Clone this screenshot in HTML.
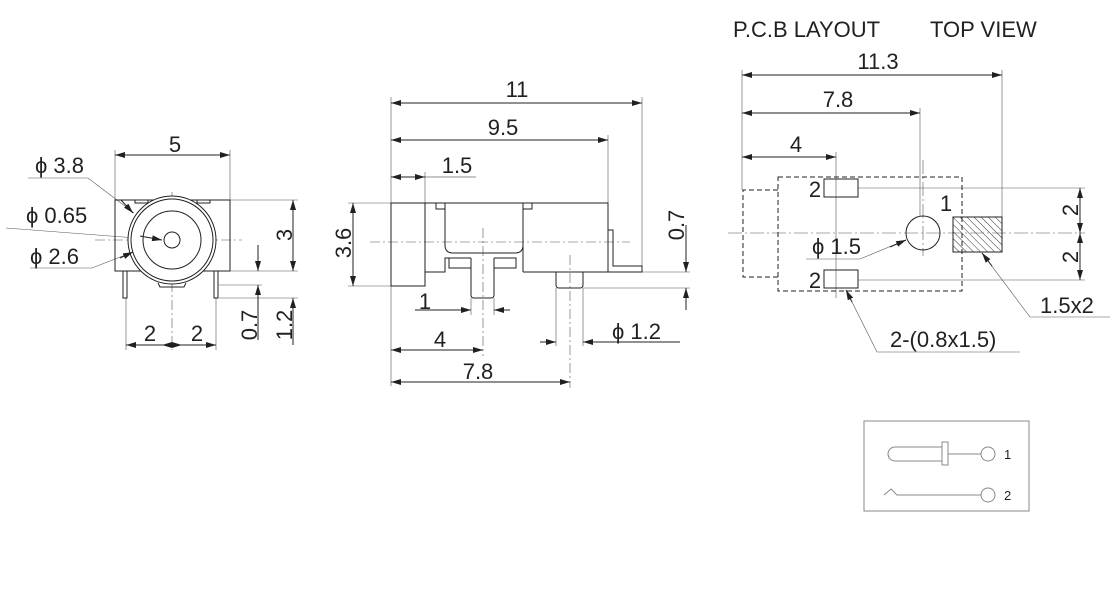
<!DOCTYPE html>
<html><head><meta charset="utf-8"><style>
html,body{margin:0;padding:0;background:#fff;width:1120px;height:590px;overflow:hidden}
svg{display:block}
text{font-family:"Liberation Sans",sans-serif;fill:#231f20}
</style></head><body>
<svg width="1120" height="590" viewBox="0 0 1120 590" xmlns="http://www.w3.org/2000/svg">
<defs>
<marker id="a" viewBox="0 0 10 6" refX="10" refY="3" markerWidth="10" markerHeight="6" orient="auto-start-reverse" markerUnits="userSpaceOnUse"><path d="M0,0 L10,3 L0,6 z" fill="#231f20"/></marker>
<pattern id="h" width="5" height="5" patternUnits="userSpaceOnUse" patternTransform="rotate(-45)"><line x1="0" y1="0" x2="0" y2="5" stroke="#333" stroke-width="1"/></pattern>
</defs>
<g fill="none" stroke="#231f20" stroke-width="1">
<!-- LEFT VIEW -->
<g stroke-width="0.6" stroke="#555">
<line x1="115" y1="150" x2="115" y2="200"/><line x1="230" y1="150" x2="230" y2="200"/>
<line x1="230" y1="200" x2="298" y2="200"/><line x1="230" y1="271" x2="298" y2="271"/>
<line x1="219" y1="285" x2="262" y2="285"/><line x1="219" y1="298" x2="298" y2="298"/>
<line x1="126" y1="298" x2="126" y2="350"/><line x1="216" y1="298" x2="216" y2="350"/>
<line x1="95" y1="240" x2="242" y2="240" stroke-dasharray="10,3,2,3"/>
<line x1="172" y1="192" x2="172" y2="350" stroke-dasharray="10,3,2,3"/>
<polyline points="28,178 88,178 134,213"/><polyline points="6,228 162,240"/><polyline points="30,268 92,268 133,252"/>
</g>
<rect x="115" y="200" width="115" height="71"/>
<rect x="135" y="200" width="13" height="3"/><rect x="197" y="200" width="13" height="3"/>
<circle cx="172" cy="240" r="44" fill="#fff"/><circle cx="172" cy="240" r="41"/><circle cx="172" cy="240" r="29"/><circle cx="172" cy="240" r="8"/>
<path d="M158,283 L160,287 L184,287 L186,283"/>
<rect x="123" y="271" width="4" height="27"/><rect x="214" y="271" width="4" height="27"/>
<line x1="115" y1="155" x2="230" y2="155" marker-start="url(#a)" marker-end="url(#a)"/>
<line x1="293" y1="200" x2="293" y2="271" marker-start="url(#a)" marker-end="url(#a)"/>
<line x1="293" y1="298" x2="293" y2="345" marker-start="url(#a)"/>
<line x1="258" y1="245" x2="258" y2="271" marker-end="url(#a)"/>
<line x1="258" y1="340" x2="258" y2="285" marker-end="url(#a)"/>
<line x1="126" y1="345" x2="216" y2="345" marker-start="url(#a)" marker-end="url(#a)"/>
<line x1="172" y1="345" x2="162" y2="345" marker-end="url(#a)"/><line x1="172" y1="345" x2="182" y2="345" marker-end="url(#a)"/>
<line x1="121" y1="200" x2="133" y2="213" marker-end="url(#a)"/>
<line x1="140" y1="236" x2="162" y2="240" marker-end="url(#a)"/>
<line x1="120" y1="258" x2="133" y2="252" marker-end="url(#a)"/>

<!-- MIDDLE VIEW -->
<g stroke-width="0.6" stroke="#555">
<line x1="391" y1="97" x2="391" y2="386"/><line x1="642" y1="97" x2="642" y2="272"/>
<line x1="608" y1="135" x2="608" y2="203"/><line x1="425" y1="172" x2="425" y2="203"/>
<line x1="348" y1="203" x2="391" y2="203"/><line x1="348" y1="286" x2="391" y2="286"/>
<line x1="642" y1="272" x2="690" y2="272"/><line x1="583" y1="288" x2="690" y2="288"/>
<line x1="471" y1="298" x2="471" y2="315"/><line x1="494" y1="298" x2="494" y2="315"/>
<line x1="556" y1="288" x2="556" y2="346"/><line x1="583" y1="288" x2="583" y2="346"/>
<line x1="483" y1="228" x2="483" y2="356" stroke-dasharray="10,3,2,3"/>
<line x1="570" y1="255" x2="570" y2="388" stroke-dasharray="10,3,2,3"/>
<line x1="370" y1="242" x2="630" y2="242" stroke-dasharray="10,3,2,3"/>
</g>
<rect x="391" y="203" width="34" height="83"/>
<path d="M425,203 H608 V272 H523 M425,272 H445 M445,203 V245 Q445,253 453,253 H515 Q523,253 523,245 V203 M523,203 V272"/>
<rect x="436" y="203" width="9" height="6"/><rect x="523" y="203" width="9" height="6"/>
<path d="M425,272 H445 V258 H471 M494,258 V268 H516 V258 H494"/>
<path d="M471,258 V295 Q471,298 474,298 H491 Q494,298 494,295 V258"/>
<path d="M449,258 V268 H471"/>
<path d="M608,230 H613 V266 H642 V272 H608"/>
<path d="M556,272 V285 Q556,288 559,288 H580 Q583,288 583,285 V272"/>
<line x1="391" y1="103" x2="642" y2="103" marker-start="url(#a)" marker-end="url(#a)"/>
<line x1="391" y1="140" x2="608" y2="140" marker-start="url(#a)" marker-end="url(#a)"/>
<line x1="391" y1="177" x2="425" y2="177" marker-start="url(#a)" marker-end="url(#a)"/>
<line x1="425" y1="177" x2="476" y2="177" stroke-width="0.6"/>
<line x1="353" y1="203" x2="353" y2="286" marker-start="url(#a)" marker-end="url(#a)"/>
<line x1="686" y1="225" x2="686" y2="272" marker-end="url(#a)"/>
<line x1="686" y1="310" x2="686" y2="288" marker-end="url(#a)"/>
<line x1="415" y1="310" x2="471" y2="310" marker-end="url(#a)"/>
<line x1="510" y1="310" x2="494" y2="310" marker-end="url(#a)"/>
<line x1="391" y1="350" x2="483" y2="350" marker-start="url(#a)" marker-end="url(#a)"/>
<line x1="391" y1="382" x2="570" y2="382" marker-start="url(#a)" marker-end="url(#a)"/>
<line x1="540" y1="342" x2="556" y2="342" marker-end="url(#a)"/>
<line x1="680" y1="342" x2="583" y2="342" marker-end="url(#a)"/>

<!-- RIGHT VIEW -->
<g stroke-width="0.6" stroke="#555">
<line x1="742" y1="70" x2="742" y2="190"/><line x1="1002" y1="70" x2="1002" y2="217"/>
<line x1="920" y1="108" x2="920" y2="216"/><line x1="836" y1="152" x2="836" y2="298"/>
<line x1="858" y1="188" x2="1085" y2="188"/><line x1="858" y1="280" x2="1085" y2="280"/>
<line x1="728" y1="233" x2="1085" y2="233" stroke-dasharray="14,3,2,3"/>
<line x1="923" y1="160" x2="923" y2="256" stroke-dasharray="14,3,2,3"/>
<polyline points="806,259 860,259 906,240"/>
<polyline points="1110,317 1030,317 982,253"/>
<polyline points="1020,352 877,352 846,290"/>
</g>
<g stroke-dasharray="5,3">
<rect x="778" y="177" width="184" height="114"/>
<polyline points="778,190 743,190 743,277 778,277"/>
</g>
<rect x="824" y="179" width="34" height="18"/><rect x="824" y="270" width="34" height="18"/>
<circle cx="923" cy="233" r="17"/>
<rect x="953" y="217" width="49" height="35" fill="url(#h)"/>
<line x1="742" y1="75" x2="1002" y2="75" marker-start="url(#a)" marker-end="url(#a)"/>
<line x1="742" y1="113" x2="920" y2="113" marker-start="url(#a)" marker-end="url(#a)"/>
<line x1="742" y1="157" x2="836" y2="157" marker-start="url(#a)" marker-end="url(#a)"/>
<line x1="1080" y1="188" x2="1080" y2="233" marker-start="url(#a)" marker-end="url(#a)"/>
<line x1="1080" y1="233" x2="1080" y2="280" marker-start="url(#a)" marker-end="url(#a)"/>
<line x1="890" y1="247" x2="906" y2="240" marker-end="url(#a)"/>
<line x1="992" y1="266" x2="982" y2="253" marker-end="url(#a)"/>
<line x1="852" y1="302" x2="846" y2="290" marker-end="url(#a)"/>

<!-- SCHEMATIC -->
<g stroke="#888">
<rect x="864" y="421" width="165" height="90"/>
<path d="M942,447 H895 A7,7 0 0 0 895,461 H942"/>
<rect x="942" y="442" width="6" height="23"/>
<line x1="948" y1="454" x2="981" y2="454"/>
<circle cx="988" cy="454" r="7"/>
<polyline points="884,495 891,489 897,495 981,495"/>
<circle cx="988" cy="495" r="7"/>
</g>
</g>
<g font-size="22">
<g text-anchor="middle">
<text x="175" y="152">5</text>
<text x="150" y="341">2</text><text x="197" y="341">2</text>
<text x="517" y="97">11</text>
<text x="503" y="135">9.5</text>
<text x="457" y="173">1.5</text>
<text x="425" y="309">1</text>
<text x="440" y="347">4</text>
<text x="478" y="379">7.8</text>
<text x="878" y="69">11.3</text>
<text x="838" y="107">7.8</text>
<text x="796" y="152">4</text>
<text x="815" y="197">2</text><text x="815" y="288">2</text>
<text x="946" y="211">1</text>
</g>
<text x="35" y="173">ϕ 3.8</text>
<text x="26" y="223">ϕ 0.65</text>
<text x="30" y="264">ϕ 2.6</text>
<text transform="translate(292,235) rotate(-90)" text-anchor="middle">3</text>
<text transform="translate(257,325) rotate(-90)" text-anchor="middle">0.7</text>
<text transform="translate(292,325) rotate(-90)" text-anchor="middle">1.2</text>
<text transform="translate(351,243) rotate(-90)" text-anchor="middle">3.6</text>
<text transform="translate(684,225) rotate(-90)" text-anchor="middle">0.7</text>
<text x="612" y="339">ϕ 1.2</text>
<text x="733" y="37">P.C.B LAYOUT</text><text x="930" y="37">TOP VIEW</text>
<text x="812" y="254">ϕ 1.5</text>
<text transform="translate(1078,210) rotate(-90)" text-anchor="middle">2</text>
<text transform="translate(1078,257) rotate(-90)" text-anchor="middle">2</text>
<text x="1040" y="313">1.5x2</text>
<text x="890" y="347">2-(0.8x1.5)</text>
</g>
<g font-size="13"><text x="1004" y="459">1</text><text x="1004" y="500">2</text></g>
</svg>
</body></html>
